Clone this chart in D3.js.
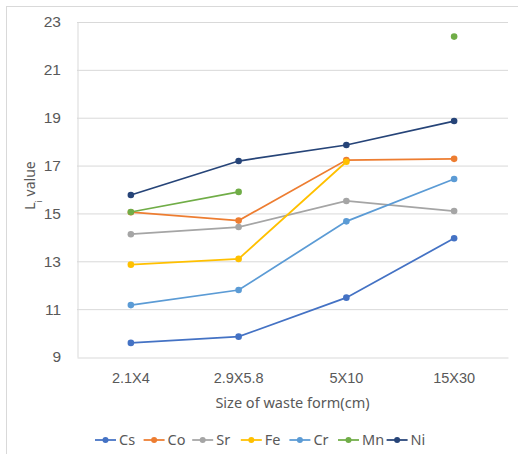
<!DOCTYPE html>
<html>
<head>
<meta charset="utf-8">
<script src="https://cdn.jsdelivr.net/npm/d3@7"></script>
<style>
  body { margin: 0; background: #fff; }
  svg { display: block; font-family: "Noto Sans", "Open Sans", sans-serif; }
  .tick text { fill: #595959; }
</style>
</head>
<body>
<div class="chart_wrapper"></div>
<script>
// data
const sizes = ["2.1X4", "2.9X5.8", "5X10", "15X30"]
const elements = ["Cs", "Co", "Sr", "Fe", "Cr", "Mn", "Ni"]
const colors = ["#4472C4", "#ED7D31", "#A5A5A5", "#FFC000", "#5B9BD5", "#70AD47", "#264478"]

const csValues = [9.59, 9.85, 11.48, 13.96]
const coValues = [15.05, 14.70, 17.23, 17.28]
const srValues = [14.13, 14.43, 15.52, 15.10]
const feValues = [12.86, 13.10, 17.16, null]
const crValues = [11.17, 11.80, 14.67, 16.44]
const mnValues = [15.06, 15.90, null, 22.39]
const niValues = [15.77, 17.19, 17.86, 18.86]

const yTicks = [9, 11, 13, 15, 17, 19, 21, 23]

const seriesValues = [csValues, coValues, srValues, feValues, crValues, mnValues, niValues]
const dataset = elements.map((name, i) => ({
  name: name,
  color: colors[i],
  points: sizes.map((s, j) => ({ size: s, value: seriesValues[i][j] }))
}))

const xAccessor = d => d.size
const yAccessor = d => d.value

let dimensions = {
  width: 518,
  height: 454,
  margin: { top: 22, right: 10, bottom: 97, left: 77 },
}
dimensions.boundedWidth = dimensions.width - dimensions.margin.left - dimensions.margin.right
dimensions.boundedHeight = dimensions.height - dimensions.margin.top - dimensions.margin.bottom

const wrapper = d3.select(".chart_wrapper")
  .append("svg")
    .attr("width", dimensions.width)
    .attr("height", dimensions.height)

// outer chart border
wrapper.append("rect")
  .attr("x", 6.5).attr("y", 6.5)
  .attr("width", 530).attr("height", 470)
  .attr("fill", "none")
  .attr("stroke", "#d9d9d9")

const bounds = wrapper.append("g")
  .attr("transform", `translate(${dimensions.margin.left},${dimensions.margin.top})`)

// scales
const xScale = d3.scaleBand()
  .domain(sizes)
  .range([0, dimensions.boundedWidth])

const yScale = d3.scaleLinear()
  .domain([9, 23])
  .range([dimensions.boundedHeight, 0])

// gridlines
bounds.append("g")
  .selectAll("line")
  .data(yTicks.slice(1))
  .join("line")
    .attr("x1", 0)
    .attr("x2", dimensions.boundedWidth)
    .attr("y1", d => yScale(d) + 0.5)
    .attr("y2", d => yScale(d) + 0.5)
    .attr("stroke", "#d9d9d9")
    .attr("stroke-width", 1)

// axes
const yAxis = bounds.append("g")
  .call(d3.axisLeft(yScale).tickValues(yTicks).tickSize(0).tickPadding(16))
yAxis.select(".domain").attr("stroke", "#d9d9d9").attr("transform", "translate(0.5,0)")
yAxis.selectAll("text").style("font-size", "15.5px")

const xAxis = bounds.append("g")
  .attr("transform", `translate(0,${dimensions.boundedHeight + 0.5})`)
  .call(d3.axisBottom(xScale).tickSize(0).tickPadding(15))
xAxis.select(".domain").attr("stroke", "#d9d9d9")
xAxis.selectAll("text").style("font-size", "14.5px")

// axis titles
wrapper.append("text")
  .attr("x", dimensions.margin.left + dimensions.boundedWidth / 2)
  .attr("y", 408)
  .attr("text-anchor", "middle")
  .attr("fill", "#595959")
  .style("font-size", "14.5px")
  .text("Size of waste form(cm)")

const yLabel = wrapper.append("text")
  .attr("transform", `translate(35,${dimensions.margin.top + dimensions.boundedHeight / 2 - 4}) rotate(-90)`)
  .attr("text-anchor", "middle")
  .attr("fill", "#595959")
  .style("font-size", "14px")
yLabel.append("tspan").text("L")
yLabel.append("tspan").attr("baseline-shift", "sub").style("font-size", "9px").text("i")
yLabel.append("tspan").text(" value")

// lines (skip missing values, Excel-style gaps)
const lineGenerator = d3.line()
  .defined(d => yAccessor(d) != null)
  .x(d => xScale(xAccessor(d)) + xScale.bandwidth() / 2)
  .y(d => yScale(yAccessor(d)))

const series = bounds.selectAll(".series")
  .data(dataset)
  .join("g")
    .attr("class", "series")

series.append("path")
  .attr("d", d => lineGenerator(d.points))
  .attr("fill", "none")
  .attr("stroke", d => d.color)
  .attr("stroke-width", 1.75)

series.selectAll("circle")
  .data(d => d.points.filter(p => yAccessor(p) != null).map(p => ({ ...p, color: d.color })))
  .join("circle")
    .attr("cx", d => xScale(xAccessor(d)) + xScale.bandwidth() / 2)
    .attr("cy", d => yScale(yAccessor(d)))
    .attr("r", 3.3)
    .attr("fill", d => d.color)

// legend
const legend = wrapper.append("g")
  .attr("transform", "translate(95,440)")

const legendItems = legend.selectAll("g")
  .data(dataset)
  .join("g")
    .attr("transform", (d, i) => `translate(${i * 48.6},0)`)

legendItems.append("line")
  .attr("x1", 0).attr("x2", 21)
  .attr("stroke", d => d.color)
  .attr("stroke-width", 1.75)
legendItems.append("circle")
  .attr("cx", 10.5).attr("r", 3)
  .attr("fill", d => d.color)
legendItems.append("text")
  .attr("x", 24)
  .attr("dy", "0.35em")
  .attr("fill", "#595959")
  .style("font-size", "14.5px")
  .text(d => d.name)
</script>
</body>
</html>
